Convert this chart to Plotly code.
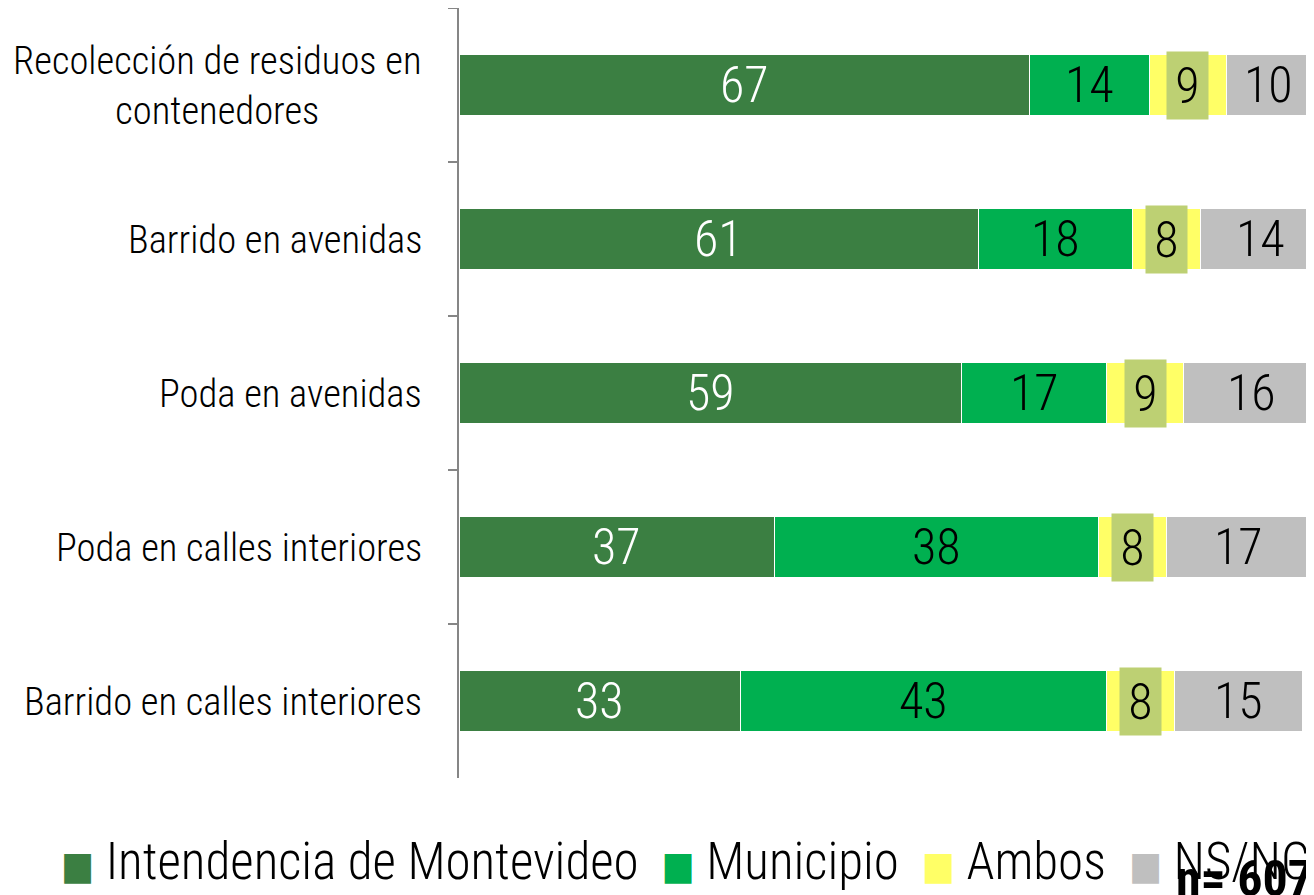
import plotly.graph_objects as go

categories = [
    "Recolección de residuos en<br>contenedores",
    "Barrido en avenidas",
    "Poda en avenidas",
    "Poda en calles interiores",
    "Barrido en calles interiores",
]
series_names = ["Intendencia de Montevideo", "Municipio", "Ambos", "NS/NC"]
intendencia = [67, 61, 59, 37, 33]
municipio = [14, 18, 17, 38, 43]
ambos = [9, 8, 9, 8, 8]
nsnc = [10, 14, 16, 17, 15]
series_values = [intendencia, municipio, ambos, nsnc]
colors = ["#3B7F42", "#00B050", "#FFFF66", "#BFBFBF"]
label_colors = ["white", "black", "black", "black"]
label_bg = [None, None, "#BDD073", None]
n_text = "n= 607"

FONT = "Roboto Condensed, DejaVu Sans Condensed, sans-serif"

fig = go.Figure()
for name, vals, col in zip(series_names, series_values, colors):
    fig.add_trace(go.Bar(
        y=categories, x=vals, name=name, orientation="h",
        marker=dict(color=col, line=dict(color="white", width=1)),
        showlegend=False, hoverinfo="x+y",
    ))

annotations = []
for i, cat in enumerate(categories):
    base = 0
    for s, vals in enumerate(series_values):
        v = vals[i]
        ann = dict(x=base + v / 2, y=cat, xref="x", yref="y", text=str(v),
                   showarrow=False,
                   font=dict(family=FONT, size=50, weight=300,
                             color=label_colors[s]))
        if label_bg[s]:
            ann.update(bgcolor=label_bg[s], borderpad=0, width=41, height=67)
        annotations.append(ann)
        base += v
    annotations.append(dict(x=-0.040, y=cat, xref="paper", yref="y", text=cat,
                            showarrow=False, xanchor="right", align="center",
                            font=dict(family=FONT, size=38.6, weight=300,
                                      color="black")))

legend_parts = []
for name, col in zip(series_names, colors):
    legend_parts.append(
        f"<span style='color:{col};font-size:39px'>■</span> {name}")
legend_text = "  ".join(legend_parts)
annotations.append(dict(x=-0.463, y=-0.109, xref="paper", yref="paper",
                        text=legend_text, showarrow=False, xanchor="left",
                        yanchor="middle",
                        font=dict(family=FONT, size=51, weight=300,
                                  color="black")))
annotations.append(dict(x=0.99, y=-0.131, xref="paper", yref="paper",
                        text=f"<b>{n_text}</b>", showarrow=False,
                        xanchor="right", yanchor="middle",
                        font=dict(family=FONT, size=50, color="black")))

fig.update_layout(
    barmode="stack", bargap=0.604,
    width=1346, height=895,
    margin=dict(l=451, r=30, t=0, b=125),
    paper_bgcolor="white", plot_bgcolor="white",
    annotations=annotations,
    xaxis=dict(range=[0, 101.5], visible=False, showgrid=False),
    yaxis=dict(categoryorder="array", categoryarray=categories,
               autorange="reversed", showticklabels=False,
               showline=True, linecolor="#868686", linewidth=2,
               ticks="outside", ticklen=9, tickcolor="#868686", tickwidth=2,
               tickson="boundaries", showgrid=False, zeroline=False),
)

fig.write_html("out.html")
